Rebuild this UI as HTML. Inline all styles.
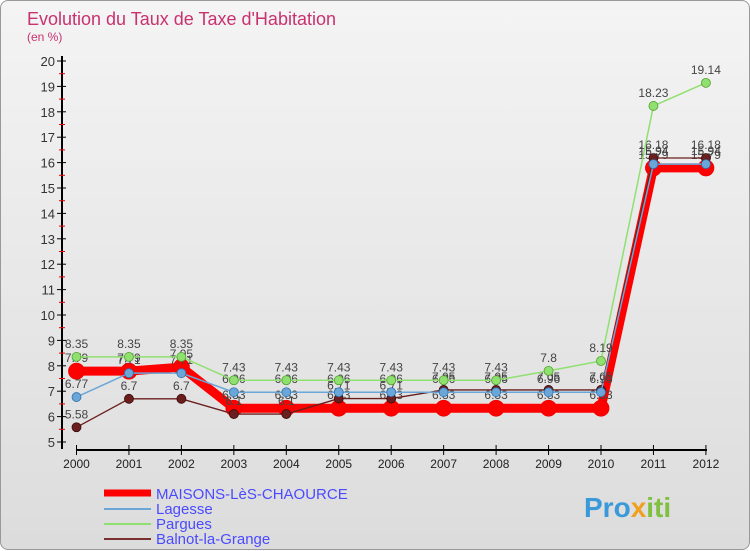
<!DOCTYPE html>
<html><head><meta charset="utf-8"><style>
body{margin:0;width:750px;height:550px;overflow:hidden;font-family:"Liberation Sans",sans-serif}
#wrap{position:absolute;left:0;top:0;width:748px;height:548px;border:1px solid #999;border-radius:8px;background:linear-gradient(#f4f4f4,#dcdcdc)}
</style></head><body>
<div id="wrap">
<svg width="750" height="550" id="svg" style="position:absolute;left:0;top:0">
<text x="26" y="24" font-size="18" fill="#c8326e">Evolution du Taux de Taxe d'Habitation</text>
<text x="26" y="40" font-size="12" fill="#c8326e">(en %)</text>
<g id="axes"></g><g id="series"></g>
<g>
<line x1="103" y1="492" x2="150" y2="492" stroke="#f00" stroke-width="7"/>
<text x="155" y="498" font-size="15" fill="#4a4aff">MAISONS-LèS-CHAOURCE</text>
<line x1="103" y1="508" x2="150" y2="508" stroke="#6aa7d8" stroke-width="2"/>
<text x="155" y="513" font-size="15" fill="#4a4aff">Lagesse</text>
<line x1="103" y1="523" x2="150" y2="523" stroke="#90e070" stroke-width="2"/>
<text x="155" y="528" font-size="15" fill="#4a4aff">Pargues</text>
<line x1="103" y1="538" x2="150" y2="538" stroke="#7a3030" stroke-width="2"/>
<text x="155" y="543" font-size="15" fill="#4a4aff">Balnot-la-Grange</text>
</g>
<text x="583" y="516" font-size="28" font-weight="bold" fill="#3a9ad9">Pro<tspan fill="#f0a020">x</tspan><tspan fill="#80c040">iti</tspan></text>
</svg></div>
<script>
const years=[2000,2001,2002,2003,2004,2005,2006,2007,2008,2009,2010,2011,2012];
const mainVals=[7.79,7.79,7.95,6.33,6.33,6.33,6.33,6.33,6.33,6.33,6.33,15.79,15.79];
const lagesseVals=[6.77,7.71,7.71,6.96,6.96,6.96,6.96,6.96,6.96,6.96,6.96,15.94,15.94];
const parguesVals=[8.35,8.35,8.35,7.43,7.43,7.43,7.43,7.43,7.43,7.8,8.19,18.23,19.14];
const balnotVals=[5.58,6.7,6.7,6.1,6.1,6.71,6.71,7.05,7.05,7.05,7.05,16.18,16.18];
const yTicks=[5,6,7,8,9,10,11,12,13,14,15,16,17,18,19,20];
const NS="http://www.w3.org/2000/svg";
const X=i=>75.5+i*52.45, Y=v=>441-(v-5)*25.4;
const ax=document.getElementById('axes'), sg=document.getElementById('series');
function mk(tag,at,par){const e=document.createElementNS(NS,tag);for(const k in at)e.setAttribute(k,at[k]);par.appendChild(e);return e;}
let l=mk('line',{x1:61,y1:55,x2:61,y2:448,stroke:'#000','stroke-width':2},ax);


l=mk('line',{x1:75,y1:449,x2:706,y2:449,stroke:'#000','stroke-width':2},ax);


yTicks.forEach(v=>{
 const t=mk('line',{x1:56,y1:Y(v),x2:65,y2:Y(v),stroke:'#000'},ax);
 
 
 if(v<20){const m=mk('line',{x1:58,y1:Y(v+0.5),x2:64,y2:Y(v+0.5),stroke:'#e00'},ax);
 
 }
 const tx=mk('text',{x:54,y:Y(v)+5,'font-size':13,'text-anchor':'end',fill:'#333'},ax);tx.textContent=v;
 
 
});
years.forEach((yr,i)=>{
 const t=mk('line',{x1:X(i),y1:444,x2:X(i),y2:454,stroke:'#000'},ax);
 
 
 const tx=mk('text',{x:X(i),y:467,'font-size':12,'text-anchor':'middle',fill:'#222'},ax);tx.textContent=yr;
 
 
});
function series(vals,color,w,r,name,stroke){
 const g=mk('g',{},sg);
 
 
 const p=mk('polyline',{points:vals.map((v,i)=>X(i)+','+Y(v)).join(' '),fill:'none',stroke:color,'stroke-width':w},g);
 
 
 vals.forEach((v,i)=>{
  const c=mk('circle',{cx:X(i),cy:Y(v),r:r,fill:color,stroke:stroke,'stroke-width':0.8},g);
  
  
  const t=mk('text',{x:X(i),y:Y(v)-9,'font-size':12,'text-anchor':'middle',fill:'#444'},g);t.textContent=v;
  
  
 });
}
series(mainVals,'#f00',9,8,'main-series','#e00');
series(balnotVals,'#6b1e1e',1.3,4.5,'balnot-series','#3a0a0a');
series(lagesseVals,'#6aa7d8',1.5,4.5,'lagesse-series','#2a70b0');
series(parguesVals,'#90e070',1.5,4.5,'pargues-series','#50a030');
</script>
</body></html>
